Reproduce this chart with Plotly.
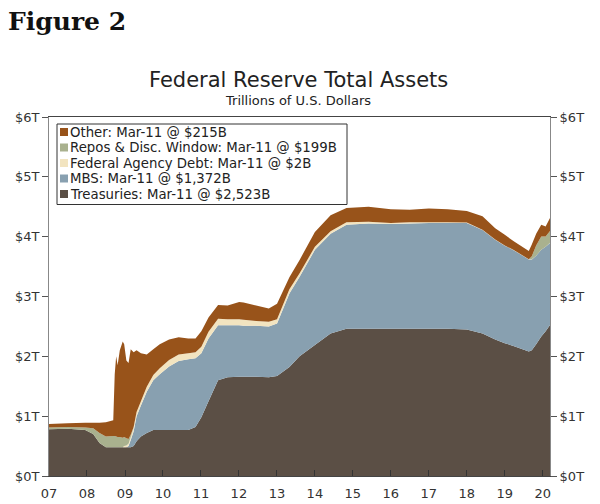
import plotly.graph_objects as go

# weekly-ish readings of the Fed balance sheet, trillions of dollars
dates = [
    "2007-01-01", "2007-07-01", "2007-12-15", "2008-03-01", "2008-05-01", "2008-07-01",
    "2008-09-10", "2008-09-24", "2008-10-08", "2008-10-22", "2008-11-12", "2008-12-10",
    "2008-12-24", "2009-01-14", "2009-02-04", "2009-02-25", "2009-03-25", "2009-04-22",
    "2009-06-03", "2009-07-29", "2009-09-30", "2009-12-01", "2010-03-01", "2010-06-01",
    "2010-09-01", "2010-11-10", "2011-01-05", "2011-03-15", "2011-06-15", "2011-09-15",
    "2012-01-04", "2012-02-15", "2012-06-15", "2012-10-15", "2013-01-02", "2013-05-01",
    "2013-08-07", "2014-01-01", "2014-06-01", "2014-11-01", "2015-06-01", "2016-01-01",
    "2016-07-01", "2017-01-01", "2017-07-01", "2018-01-01", "2018-06-01", "2018-10-01",
    "2019-01-01", "2019-04-01", "2019-08-20", "2019-09-18", "2019-10-30", "2019-12-18",
    "2020-01-29", "2020-03-11",
]

treasuries = [
    0.78, 0.79, 0.77, 0.70, 0.55, 0.48,
    0.48, 0.48, 0.48, 0.48, 0.48, 0.48,
    0.48, 0.48, 0.48, 0.48, 0.50, 0.58,
    0.66, 0.72, 0.77, 0.77, 0.77, 0.77,
    0.77, 0.82, 0.98, 1.25, 1.60, 1.65,
    1.66, 1.66, 1.66, 1.65, 1.67, 1.82,
    2.00, 2.19, 2.38, 2.46, 2.46, 2.46,
    2.46, 2.46, 2.46, 2.45, 2.38, 2.28,
    2.22, 2.17, 2.08, 2.10, 2.20, 2.33,
    2.42, 2.523,
]

mbs = [
    0, 0, 0, 0, 0, 0,
    0, 0, 0, 0, 0, 0,
    0, 0, 0.02, 0.12, 0.25, 0.42,
    0.52, 0.69, 0.83, 0.93, 1.06, 1.15,
    1.18, 1.15, 1.07, 1.05, 0.92, 0.87,
    0.86, 0.85, 0.85, 0.85, 0.88, 1.23,
    1.33, 1.59, 1.67, 1.74, 1.76, 1.75,
    1.76, 1.77, 1.77, 1.78, 1.73, 1.67,
    1.63, 1.60, 1.54, 1.52, 1.48, 1.45,
    1.41, 1.372,
]

agency = [
    0, 0, 0, 0, 0, 0,
    0, 0, 0, 0, 0, 0,
    0.02, 0.03, 0.04, 0.05, 0.06, 0.07,
    0.07, 0.08, 0.09, 0.10, 0.11, 0.11,
    0.10, 0.10, 0.11, 0.11, 0.11, 0.10,
    0.10, 0.10, 0.08, 0.08, 0.07, 0.07,
    0.06, 0.05, 0.04, 0.04, 0.03, 0.02,
    0.02, 0.01, 0.01, 0.005, 0.005, 0.004,
    0.003, 0.003, 0.003, 0.003, 0.003, 0.003,
    0.002, 0.002,
]

repos = [
    0.03, 0.03, 0.04, 0.10, 0.17, 0.18,
    0.19, 0.19, 0.18, 0.17, 0.17, 0.16,
    0.15, 0.12, 0.08, 0.04, 0.01, 0,
    0, 0, 0, 0, 0, 0,
    0, 0, 0, 0, 0, 0,
    0, 0, 0, 0, 0, 0,
    0, 0, 0, 0, 0, 0,
    0, 0, 0, 0, 0, 0,
    0, 0, 0, 0.05, 0.17, 0.22,
    0.17, 0.199,
]

other = [
    0.06, 0.06, 0.08, 0.09, 0.17, 0.24,
    0.26, 1.03, 1.34, 1.20, 1.45, 1.61,
    1.55, 1.30, 1.27, 1.43, 1.25, 1.03,
    0.80, 0.54, 0.43, 0.40, 0.34, 0.29,
    0.25, 0.23, 0.26, 0.24, 0.23, 0.23,
    0.29, 0.29, 0.26, 0.22, 0.26, 0.20,
    0.22, 0.25, 0.27, 0.24, 0.25, 0.23,
    0.21, 0.23, 0.22, 0.195, 0.225, 0.186,
    0.177, 0.147, 0.137, 0.197, 0.197, 0.197,
    0.168, 0.215,
]

series_names = ["Treasuries", "MBS", "Federal Agency Debt", "Repos & Disc. Window", "Other"]
legend_labels = [
    "Other: Mar-11 @ $215B",
    "Repos & Disc. Window: Mar-11 @ $199B",
    "Federal Agency Debt: Mar-11 @ $2B",
    "MBS: Mar-11 @ $1,372B",
    "Treasuries: Mar-11 @ $2,523B",
]
year_ticks = [f"{y}-01-01" for y in range(2007, 2021)]
year_labels = [f"{y % 100:02d}" for y in range(2007, 2021)]
y_ticks = [0, 1, 2, 3, 4, 5, 6]
y_labels = [f"${v}T" for v in y_ticks]

colors = {
    "Treasuries": "#5b4f45",
    "MBS": "#88a0b0",
    "Federal Agency Debt": "#f2e4c0",
    "Repos & Disc. Window": "#a9b18e",
    "Other": "#98531a",
}

# page body has an 8px margin, so the figure is shrunk and everything shifted by it
OFF = 8
W, H = 600 - OFF, 504 - OFF
PL, PR, PT, PB = 49 - OFF, 550 - OFF, 117 - OFF, 476 - OFF  # plot area in figure pixels


def px(x):
    # x is a pixel position in the reference picture
    return (x - OFF - PL) / (PR - PL)


def py(y):
    return (PB - (y - OFF)) / (PB - PT)


fig = go.Figure()
for name, vals in zip(series_names, [treasuries, mbs, agency, repos, other]):
    fig.add_trace(go.Scatter(
        x=dates, y=vals, name=name, stackgroup="one", mode="none",
        fillcolor=colors[name], line=dict(width=0), showlegend=False,
    ))

# invisible trace so the right-hand axis gets drawn
fig.add_trace(go.Scatter(x=dates, y=treasuries, yaxis="y2", mode="none",
                         showlegend=False, hoverinfo="skip"))

# hand-built legend box to match the reference
shapes = [dict(type="rect", xref="paper", yref="paper",
               x0=px(57), x1=px(347), y0=py(124), y1=py(204.5),
               line=dict(color="#333333", width=1), fillcolor="white")]
annotations = []
legend_order = ["Other", "Repos & Disc. Window", "Federal Agency Debt", "MBS", "Treasuries"]
for i, (key, label) in enumerate(zip(legend_order, legend_labels)):
    cy = 132 + i * 15.5
    shapes.append(dict(type="rect", xref="paper", yref="paper",
                       x0=px(60), x1=px(68), y0=py(cy + 4), y1=py(cy - 4),
                       line=dict(width=0), fillcolor=colors[key]))
    annotations.append(dict(text=label, xref="paper", yref="paper", x=px(67.5), y=py(cy),
                            xanchor="left", yanchor="middle", showarrow=False,
                            font=dict(size=13.3, color="#222222")))

annotations += [
    dict(text="<b>Figure 2</b>", xref="paper", yref="paper", x=px(6), y=py(21),
         xanchor="left", yanchor="middle", showarrow=False,
         font=dict(family="DejaVu Serif", size=25, color="#111111")),
    dict(text="Federal Reserve Total Assets", xref="paper", yref="paper", x=px(298), y=py(80),
         xanchor="center", yanchor="middle", showarrow=False,
         font=dict(size=21, color="#222222")),
    dict(text="Trillions of U.S. Dollars", xref="paper", yref="paper", x=px(298), y=py(100),
         xanchor="center", yanchor="middle", showarrow=False,
         font=dict(size=13, color="#222222")),
]

axis_font = dict(size=13, color="#333333")
fig.update_layout(
    width=W, height=H,
    margin=dict(l=PL, r=W - PR, t=PT, b=H - PB, pad=0),
    paper_bgcolor="white", plot_bgcolor="white",
    font=dict(family="DejaVu Sans", size=12, color="#333333"),
    showlegend=False,
    shapes=shapes, annotations=annotations,
    xaxis=dict(type="date", range=["2007-01-01", "2020-03-11"],
               tickvals=year_ticks, ticktext=year_labels,
               ticks="inside", ticklen=6, tickcolor="#333333",
               ticklabelstandoff=5, automargin=False,
               showline=True, linecolor="#444444", mirror=True,
               showgrid=False, zeroline=False, tickfont=axis_font),
    yaxis=dict(range=[0, 6], tickvals=y_ticks, ticktext=y_labels,
               ticks="outside", ticklen=6, tickcolor="#555555", automargin=False,
               showline=True, linecolor="#888888",
               showgrid=False, zeroline=False, tickfont=axis_font),
    yaxis2=dict(range=[0, 6], tickvals=y_ticks, ticktext=y_labels, overlaying="y", side="right",
                ticks="outside", ticklen=6, tickcolor="#555555", automargin=False,
                showline=True, linecolor="#888888",
                showgrid=False, zeroline=False, tickfont=axis_font),
)

fig.write_html("out.html")
